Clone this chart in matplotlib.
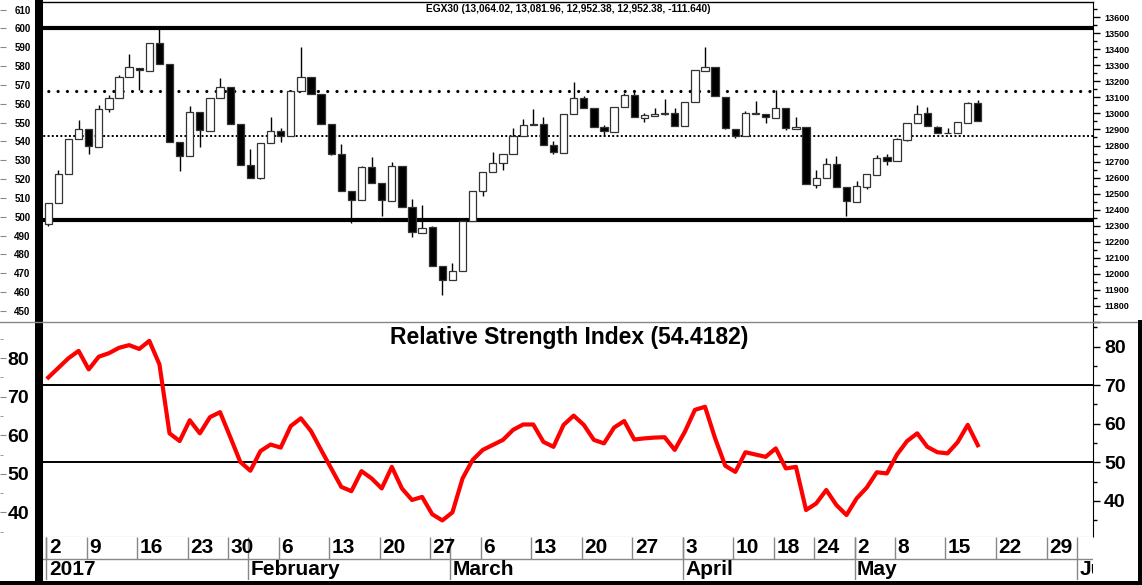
import numpy as np
import pandas as pd
import matplotlib
matplotlib.use("Agg")
import matplotlib.pyplot as plt
from matplotlib.lines import Line2D
from matplotlib.ticker import MultipleLocator, FuncFormatter

# EGX30 daily candles, 2 Jan - 18 May 2017 (index = trading day)
opens = [12312, 12441, 12623, 12838, 12900, 12792, 13026, 13094, 13228, 13286,
         13266, 13443, 13311, 12821, 12733, 13011, 12890, 13094, 13167, 12936,
         12681, 12596, 12813, 12890, 12859, 13138, 13230, 13124, 12932, 12750,
         12519, 12458, 12667, 12565, 12456, 12671, 12414, 12254, 12289, 12045,
         11961, 12018, 12326, 12514, 12635, 12692, 12744, 12859, 12936, 12936,
         12802, 12754, 12994, 13096, 13034, 12915, 12886, 13040, 13113, 12973,
         12986, 12994, 13000, 12919, 13071, 13266, 13293, 13105, 12905, 12859,
         12998, 12994, 12973, 13036, 12905, 12917, 12556, 12598, 12685, 12539,
         12445, 12541, 12614, 12727, 12702, 12834, 12942, 13000, 12917, 12880,
         12875, 12942, 13064.02]
highs = [12441, 12650, 12838, 12959, 12900, 13051, 13113, 13240, 13374, 13286,
         13443, 13547, 13311, 12821, 13046, 13011, 13096, 13224, 13167, 12936,
         12779, 12813, 12980, 12907, 13138, 13416, 13230, 13124, 12932, 12811,
         12519, 12675, 12728, 12565, 12700, 12671, 12467, 12429, 12300, 12045,
         12066, 12326, 12514, 12636, 12760, 12746, 12911, 12967, 13030, 12980,
         12831, 12994, 13197, 13110, 13034, 12925, 13042, 13126, 13134, 13005,
         13034, 13088, 13034, 13071, 13270, 13412, 13293, 13105, 12905, 13017,
         13078, 12994, 13144, 13036, 12980, 12917, 12650, 12723, 12733, 12539,
         12577, 12619, 12738, 12744, 12844, 12942, 13051, 13040, 12923, 12911,
         12946, 13071, 13081.96]
lows = [12300, 12441, 12623, 12838, 12750, 12792, 13011, 13094, 13228, 13144,
        13266, 13311, 12821, 12639, 12733, 12790, 12890, 13094, 12936, 12681,
        12596, 12592, 12813, 12821, 12859, 13138, 13119, 12932, 12740, 12519,
        12316, 12458, 12565, 12362, 12456, 12414, 12227, 12254, 12045, 11868,
        11961, 12018, 12326, 12483, 12635, 12650, 12744, 12859, 12927, 12802,
        12744, 12754, 12994, 13034, 12915, 12859, 12886, 13040, 12978, 12946,
        12986, 12990, 12921, 12919, 13071, 13266, 13109, 12900, 12844, 12859,
        12994, 12942, 12973, 12894, 12905, 12560, 12535, 12598, 12539, 12358,
        12445, 12529, 12614, 12677, 12702, 12830, 12942, 12921, 12879, 12875,
        12875, 12942, 12952.38]
closes = [12441, 12623, 12838, 12900, 12796, 13026, 13094, 13228, 13291, 13272,
          13443, 13311, 12821, 12733, 13011, 12894, 13096, 13167, 12936, 12681,
          12596, 12813, 12890, 12859, 13138, 13230, 13119, 12932, 12750, 12519,
          12462, 12667, 12565, 12458, 12671, 12414, 12258, 12285, 12045, 11962,
          12018, 12326, 12514, 12636, 12692, 12746, 12859, 12929, 12927, 12802,
          12758, 12994, 13099, 13034, 12915, 12890, 13042, 13113, 12978, 12990,
          12994, 13002, 12921, 13071, 13270, 13291, 13109, 12907, 12859, 13000,
          13000, 12977, 13036, 12907, 12917, 12560, 12598, 12685, 12539, 12452,
          12545, 12619, 12723, 12706, 12838, 12942, 12998, 12921, 12879, 12875,
          12946, 13064.02, 12952.38]

# RSI (14) values per trading day
rsi = [72.0, 74.5, 77.0, 78.9, 74.1, 77.4, 78.3, 79.7, 80.4, 79.4,
       81.5, 75.4, 57.5, 55.5, 60.9, 57.5, 61.7, 63.0, 56.6, 50.1,
       47.8, 52.9, 54.6, 53.8, 59.4, 61.4, 58.1, 53.2, 48.4, 43.6,
       42.5, 47.7, 45.8, 43.2, 48.8, 43.2, 40.2, 41.0, 36.5, 34.9,
       37.0, 45.8, 50.6, 53.2, 54.5, 55.8, 58.4, 59.8, 59.8, 55.3,
       54.0, 59.7, 62.1, 59.7, 55.8, 54.9, 59.0, 60.7, 55.9, 56.2,
       56.4, 56.5, 53.2, 57.9, 63.6, 64.4, 56.2, 49.1, 47.5, 52.6,
       52.0, 51.4, 53.6, 48.4, 48.8, 37.6, 39.3, 42.8, 38.9, 36.3,
       40.6, 43.4, 47.4, 47.1, 52.0, 55.5, 57.5, 54.0, 52.6, 52.3,
       55.2, 59.7, 54.4182]

# horizontal levels drawn on the price panel
solid_levels = [13531, 12335]
dotted_major = 13138
dotted_minor = 12859
rsi_levels = [70, 50]

holidays = ["2017-01-06", "2017-01-25", "2017-04-14", "2017-04-17",
            "2017-04-25", "2017-05-01"]

opens, highs, lows, closes, rsi = map(np.array, (opens, highs, lows, closes, rsi))

# trading calendar
days = pd.bdate_range("2017-01-02", "2017-06-02")
days = days[~days.isin(pd.to_datetime(holidays))]
pos = pd.Series(np.arange(len(days)), index=days)
week_idx = pos.groupby(days.to_period("W")).first().values
month_idx = pos.groupby(days.to_period("M")).first().values

W, H = 1142, 585
plt.rcParams["font.family"] = ["Liberation Sans", "DejaVu Sans"]
plt.rcParams["font.weight"] = "bold"
fig = plt.figure(figsize=(W / 100, H / 100), dpi=100)


def rect(x0, y0, x1, y1):
    return [x0 / W, 1 - y1 / H, (x1 - x0) / W, (y1 - y0) / H]


L, R = 39, 1093
ax = fig.add_axes(rect(L, 2, R, 322))
ax_rsi = fig.add_axes(rect(L, 322, R, 537))
ax_date = fig.add_axes(rect(L, 537, R, 580))
xlim = (-0.92, 103.4)
for a in (ax, ax_rsi, ax_date):
    a.set_xlim(*xlim)
    a.set_xticks([])
    a.spines["left"].set_visible(False)
left_loc = -L / (R - L)

# ---- price panel ----
x = np.arange(len(closes))
up = closes >= opens
ax.vlines(x, lows, highs, color="black", lw=1, zorder=2)
ax.bar(x, np.abs(closes - opens), bottom=np.minimum(opens, closes), width=0.72,
       color=np.where(up, "white", "black"), edgecolor="#333333", lw=0.9, zorder=3)
for lv in solid_levels:
    ax.axhline(lv, color="black", lw=3.0, zorder=1)
ax.axhline(dotted_major, color="black", lw=2.3, linestyle=(0, (0.01, 2.9)),
           dash_capstyle="round", zorder=1)
ax.axhline(dotted_minor, color="black", lw=1.4, linestyle=(0, (1, 1.2)), zorder=1)
ax.set_ylim(11698, 13696)
ax.yaxis.tick_right()
ax.yaxis.set_major_locator(MultipleLocator(100))
ax.yaxis.set_minor_locator(MultipleLocator(50))
ax.yaxis.set_major_formatter(FuncFormatter(
    lambda v, p: f"{v:.0f}" if 11800 <= v <= 13600 else ""))
ax.tick_params(axis="y", which="major", length=5, width=1, labelsize=6.5, pad=3)
ax.tick_params(axis="y", which="minor", length=3, width=1)
ax.spines["bottom"].set_visible(False)
ax.spines["top"].set_linewidth(1)

to_left = lambda v: 605.86 - (13600 - v) * 0.08504
to_right = lambda v: 13600 - (605.86 - v) / 0.08504
sec = ax.secondary_yaxis(left_loc, functions=(to_left, to_right))
sec.set_yticks(np.arange(450, 611, 10))
sec.tick_params(direction="in", length=4, pad=-22, labelsize=7, color="#888888")
sec.spines[["left", "right"]].set_visible(False)

last = closes[-1] - closes[-2]
ax.text(0.502, 0.978, f"EGX30 ({opens[-1]:,.2f}, {highs[-1]:,.2f}, {lows[-1]:,.2f}, "
        f"{closes[-1]:,.2f}, {last:.3f})", transform=ax.transAxes,
        ha="center", va="center", fontsize=7.3)

# ---- RSI panel ----
ax_rsi.plot(x, rsi, color="#ff0000", lw=3, solid_joinstyle="round", zorder=3)
for lv in rsi_levels:
    ax_rsi.axhline(lv, color="black", lw=1.4, zorder=2)
ax_rsi.set_ylim(30.6, 86.4)
ax_rsi.yaxis.tick_right()
ax_rsi.yaxis.set_minor_locator(MultipleLocator(5))
ax_rsi.set_yticks(np.arange(40, 81, 10))
ax_rsi.tick_params(axis="y", which="major", length=5, width=1, labelsize=14, pad=3)
ax_rsi.tick_params(axis="y", which="minor", length=3, width=1)
ax_rsi.spines["top"].set_visible(False)
ax_rsi.spines["bottom"].set_color("#888888")
ax_rsi.text(0.503, 0.93, f"Relative Strength Index ({rsi[-1]:.4f})",
            transform=ax_rsi.transAxes, ha="center", va="center", fontsize=16.5)

sec2 = ax_rsi.secondary_yaxis(left_loc, functions=(lambda v: v + 3, lambda v: v - 3))
sec2.set_yticks(np.arange(40, 81, 10))
sec2.yaxis.set_minor_locator(MultipleLocator(5))
sec2.tick_params(which="major", direction="in", length=4, pad=-21, labelsize=14,
                 color="#888888")
sec2.tick_params(which="minor", direction="in", length=2, color="#888888")
sec2.spines[["left", "right"]].set_visible(False)

# ---- date rows ----
ax_date.set_ylim(0, 2)
for s in ax_date.spines.values():
    s.set_visible(False)
ax_date.set_yticks([])
ax_date.axhline(1, color="#888888", lw=1)
ax_date.vlines(week_idx - 0.2, 1, 2, color="#888888", lw=1)
ax_date.vlines(month_idx - 0.2, 0, 2, color="#888888", lw=1)
for i in week_idx:
    ax_date.text(i + 0.05, 1.5, str(days[i].day), ha="left", va="center",
                 fontsize=15, clip_on=True)
for k, i in enumerate(month_idx):
    name = str(days[i].year) if k == 0 else days[i].strftime("%B")
    ax_date.text(i + 0.05, 0.5, name, ha="left", va="center", fontsize=15,
                 clip_on=True)

# frame pieces
fig.add_artist(Line2D([L / W, L / W], [0, 1], color="black", lw=5.8))
fig.add_artist(Line2D([0, 1], [1 - 322 / H] * 2, color="#888888", lw=1))
fig.add_artist(Line2D([0, 1], [1 - 582.5 / H] * 2, color="black", lw=3.6))
fig.add_artist(Line2D([1139.5 / W] * 2, [0, 1 - 322 / H], color="black", lw=3.6))

fig.savefig("out.png", dpi=100)
